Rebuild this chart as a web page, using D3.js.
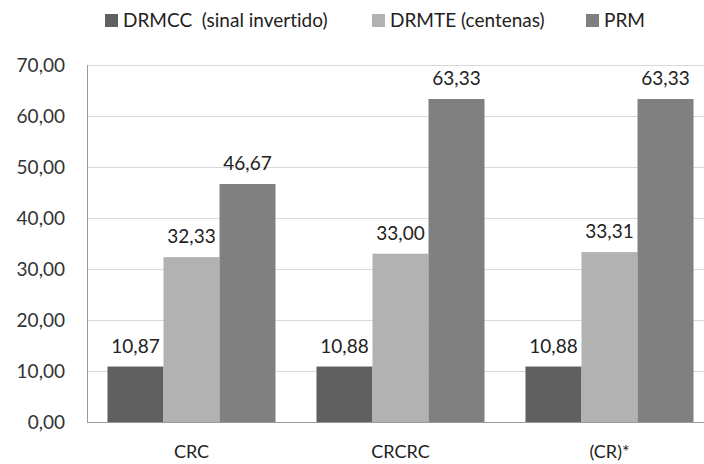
<!DOCTYPE html>
<html>
<head>
<meta charset="utf-8">
<script src="https://cdn.jsdelivr.net/npm/d3@7"></script>
<style>
  html, body { margin: 0; padding: 0; background: #fff; }
  svg { display: block; font-family: Lato, "Open Sans", sans-serif; font-variant-ligatures: none; }
</style>
</head>
<body>
<svg id="chart" width="704" height="464"></svg>
<script>
// Categories, series and axis ticks
const categories = ["CRC", "CRCRC", "(CR)*"];
const seriesNames = ["DRMCC  (sinal invertido)", "DRMTE (centenas)", "PRM"];
const drmcc = [10.87, 10.88, 10.88];
const drmte = [32.33, 33.00, 33.31];
const prm = [46.67, 63.33, 63.33];
const yTicks = [0, 10, 20, 30, 40, 50, 60, 70];
const colors = ["#606060", "#b2b2b2", "#808080"];

const series = [drmcc, drmte, prm];
const fmt = v => d3.format(".2f")(v).replace(".", ",");

const svg = d3.select("#chart");
const plotLeft = 87, plotRight = 714, plotTop = 65, plotBottom = 422;

const x = d3.scaleBand().domain(categories).range([plotLeft, plotRight])
  .paddingInner(0.196).paddingOuter(0.098);
const xs = d3.scaleBand().domain(d3.range(series.length)).range([0, x.bandwidth()]);
const y = d3.scaleLinear().domain([0, 70]).range([plotBottom, plotTop]);

// Horizontal gridlines
svg.append("g").selectAll("line").data(yTicks.filter(t => t > 0)).join("line")
  .attr("x1", plotLeft).attr("x2", 704)
  .attr("y1", d => y(d) + 0.5).attr("y2", d => y(d) + 0.5)
  .attr("stroke", "#d9d9d9").attr("stroke-width", 1);

// Y tick labels
svg.append("g").selectAll("text").data(yTicks).join("text")
  .attr("x", 65).attr("y", d => y(d) + 7)
  .attr("text-anchor", "end")
  .attr("font-size", 19).attr("fill", "#333")
  .text(d => fmt(d));

// Bars
const groups = svg.append("g").selectAll("g").data(categories).join("g")
  .attr("transform", c => `translate(${x(c)},0)`);

series.forEach((vals, si) => {
  groups.append("rect")
    .attr("x", xs(si))
    .attr("width", xs.bandwidth())
    .attr("y", (c, i) => y(vals[i]))
    .attr("height", (c, i) => y(0) - y(vals[i]))
    .attr("fill", colors[si]);
  groups.append("text")
    .attr("x", xs(si) + xs.bandwidth() / 2)
    .attr("y", (c, i) => y(vals[i]) - 14)
    .attr("text-anchor", "middle")
    .attr("font-size", 19).attr("fill", "#222")
    .text((c, i) => fmt(vals[i]));
});

// Axis lines
svg.append("line").attr("x1", plotLeft + 0.5).attr("x2", plotLeft + 0.5)
  .attr("y1", plotTop).attr("y2", plotBottom).attr("stroke", "#999");
svg.append("line").attr("x1", plotLeft).attr("x2", 704)
  .attr("y1", plotBottom + 0.5).attr("y2", plotBottom + 0.5).attr("stroke", "#999");

// Category labels
svg.append("g").selectAll("text").data(categories).join("text")
  .attr("x", c => x(c) + x.bandwidth() / 2).attr("y", 458)
  .attr("text-anchor", "middle")
  .attr("font-size", 18).attr("fill", "#222")
  .text(c => c);

// Legend
const legendX = [105, 372, 586];
const legend = svg.append("g").selectAll("g").data(seriesNames).join("g")
  .attr("transform", (d, i) => `translate(${legendX[i]},0)`);
legend.append("rect").attr("x", 0).attr("y", 14).attr("width", 13).attr("height", 13)
  .attr("fill", (d, i) => colors[i]);
legend.append("text").attr("x", 18).attr("y", 27)
  .attr("font-size", 19).attr("fill", "#222")
  .attr("xml:space", "preserve").style("white-space", "pre")
  .text(d => d);
</script>
</body>
</html>
